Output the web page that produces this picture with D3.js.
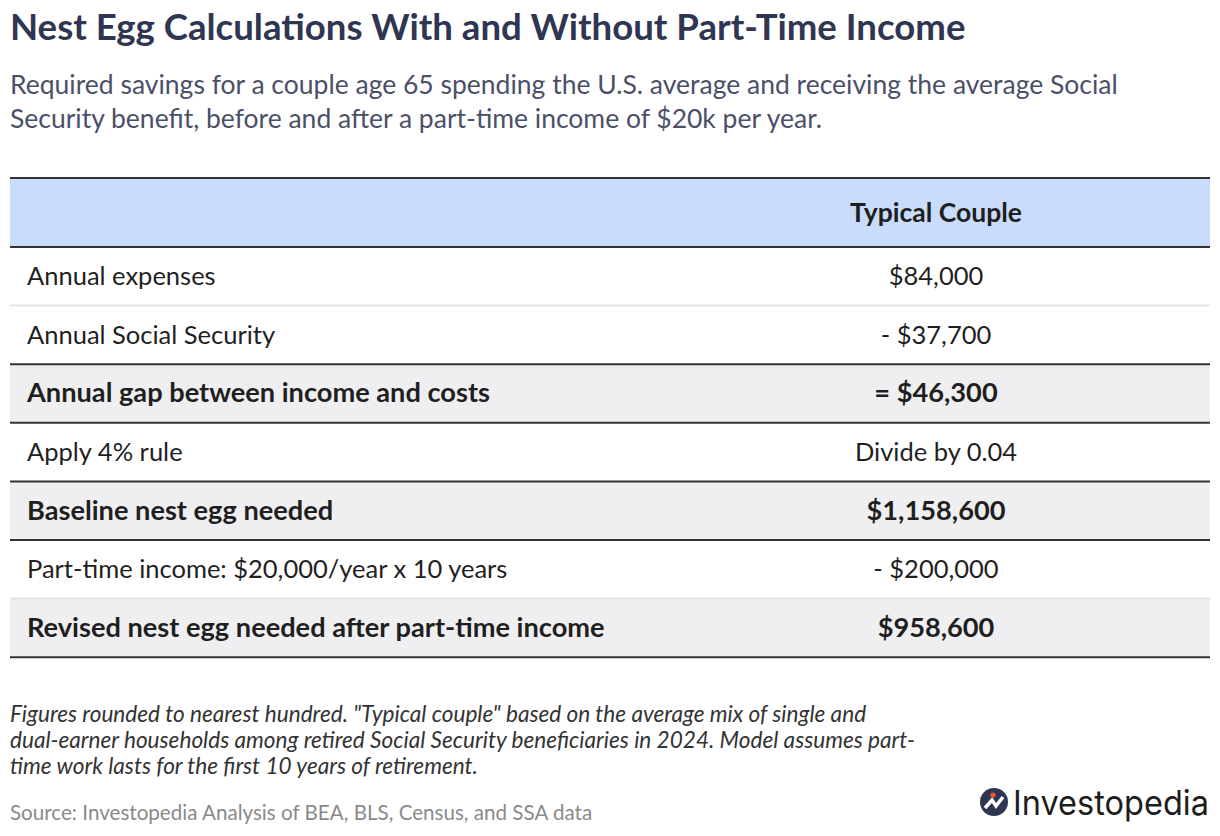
<!DOCTYPE html>
<html>
<head>
	<meta charset='utf-8'>
	<script src="https://cdnjs.cloudflare.com/ajax/libs/d3/7.8.5/d3.min.js" charset="utf-8"></script>
	<style>
	body { margin:0; background:#fff; font-family:'Source Sans Pro', Lato, sans-serif; }
	</style>
</head>
<body>
	<script>
	var W = 1220, H = 836;
	var ink = '#1f1f1f', navy = '#2f3652';

	var rows = [
		{ label: 'Annual expenses', value: '$84,000', bold: false },
		{ label: 'Annual Social Security', value: '- $37,700', bold: false },
		{ label: 'Annual gap between income and costs', value: '= $46,300', bold: true },
		{ label: 'Apply 4% rule', value: 'Divide by 0.04', bold: false },
		{ label: 'Baseline nest egg needed', value: '$1,158,600', bold: true },
		{ label: 'Part-time income: $20,000/year x 10 years', value: '- $200,000', bold: false },
		{ label: 'Revised nest egg needed after part-time income', value: '$958,600', bold: true }
	];

	var svg = d3.select('body').append('svg').attr('width', W).attr('height', H);

	svg.append('text').attr('x', 10).attr('y', 40).attr('fill', navy)
		.style('font-size', '36.6px').style('font-weight', 700).text('Nest Egg Calculations With and Without Part-Time Income');

	var sub = ['Required savings for a couple age 65 spending the U.S. average and receiving the average Social',
		'Security benefit, before and after a part-time income of $20k per year.'];
	svg.selectAll('.sub').data(sub).enter().append('text').attr('class', 'sub')
		.attr('x', 10).attr('y', function (d, i) { return 94 + i * 34; })
		.attr('fill', '#4b5068').style('font-size', '26.5px').text(function (d) { return d; });

	var x0 = 10, x1 = 1210, colX = 936;
	var headTop = 178, headBot = 247, rowH = 58.6;
	var y = d3.scaleLinear().domain([0, rows.length]).range([headBot, headBot + rowH * rows.length]);

	svg.append('rect').attr('x', x0).attr('y', headTop).attr('width', x1 - x0).attr('height', headBot - headTop).attr('fill', '#c9dcfb');
	svg.append('text').attr('x', colX).attr('y', 222).attr('text-anchor', 'middle').attr('fill', ink)
		.style('font-size', '26.5px').style('font-weight', 700).text('Typical Couple');

	var fs = function (d) { return d.bold ? '27.2px' : '25.5px'; };
	var g = svg.selectAll('.row').data(rows).enter().append('g').attr('class', 'row')
		.attr('transform', function (d, i) { return 'translate(0,' + y(i) + ')'; });
	g.append('rect').attr('x', x0).attr('width', x1 - x0).attr('height', rowH)
		.attr('fill', function (d) { return d.bold ? '#efeff1' : '#fff'; });
	g.append('text').attr('x', 27).attr('y', rowH / 2 + 9).attr('fill', ink)
		.style('font-size', fs).style('font-weight', function (d) { return d.bold ? 700 : 400; })
		.text(function (d) { return d.label; });
	g.append('text').attr('x', colX).attr('y', rowH / 2 + 9).attr('text-anchor', 'middle').attr('fill', ink)
		.style('font-size', fs).style('font-weight', function (d) { return d.bold ? 700 : 400; })
		.text(function (d) { return d.value; });

	// separators: dark around bold rows, light elsewhere
	var lines = d3.range(rows.length - 1).map(function (i) {
		return { y: y(i + 1), dark: rows[i].bold || (rows[i + 1].bold && rows[i + 1].label.indexOf('Revised') < 0) };
	});
	lines.push({ y: headTop, dark: true }, { y: headBot, dark: true }, { y: y(rows.length), dark: true });
	svg.selectAll('.sep').data(lines).enter().append('line')
		.attr('x1', x0).attr('x2', x1).attr('y1', function (d) { return d.y; }).attr('y2', function (d) { return d.y; })
		.attr('stroke', function (d) { return d.dark ? '#333' : '#e4e4e6'; })
		.attr('stroke-width', 2);

	var notes = ['Figures rounded to nearest hundred. "Typical couple" based on the average mix of single and',
		'dual-earner households among retired Social Security beneficiaries in 2024. Model assumes part-',
		'time work lasts for the first 10 years of retirement.'];
	svg.selectAll('.note').data(notes).enter().append('text').attr('class', 'note')
		.attr('x', 10).attr('y', function (d, i) { return 722 + i * 26; })
		.attr('fill', '#333').style('font-size', '22.6px').style('font-style', 'italic').text(function (d) { return d; });

	svg.append('text').attr('x', 10).attr('y', 820).attr('fill', '#8a8a8a').style('font-size', '20.6px')
		.text('Source: Investopedia Analysis of BEA, BLS, Census, and SSA data');

	// logo
	var logo = svg.append('g').attr('transform', 'translate(994,802)');
	logo.append('circle').attr('r', 14).attr('fill', '#2f3652');
	logo.append('path').attr('d', 'M-9,6 L-2,-2 L2,4 L9,-5').attr('fill', 'none').attr('stroke', '#fff').attr('stroke-width', 3.5);
	logo.append('circle').attr('cx', -1).attr('cy', -7).attr('r', 2.6).attr('fill', '#f05a28');
	svg.append('text').attr('x', 1013).attr('y', 815).attr('fill', '#1d1d1d').attr('textLength', 196).attr('lengthAdjust', 'spacingAndGlyphs')
		.style('font-size', '34px').style('font-family', 'Inter, sans-serif').style('font-weight', 400).text('Investopedia');
	</script>
</body>
</html>
